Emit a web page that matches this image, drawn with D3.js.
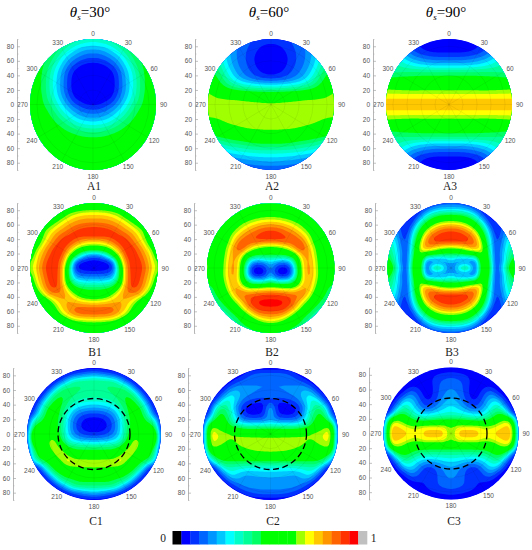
<!DOCTYPE html>
<html><head><meta charset="utf-8">
<script src="https://cdn.jsdelivr.net/npm/d3@7"></script>
<style>html,body{margin:0;padding:0;background:#fff}svg{display:block}</style>
</head><body><svg id="c" width="532" height="550"></svg>
<script>
// Colour levels of the 0..1 scale (one entry per legend box)
const levelColors=["#000000","#0000ff","#0032ff","#0064ff","#0096ff","#00c8ff","#00ffff","#00ffc8","#00ff96","#00ff64","#00ff00","#00ff00","#00ff00","#00ff00","#a0ff00","#ffff00","#ffc800","#ff9600","#ff6400","#ff3200","#ff0000","#c0c0c0"];
const titles=["30","60","90"];
const radialTicks=[-80,-60,-40,-20,0,20,40,60,80];
const angleTicks=[0,30,60,90,120,150,180,210,240,270,300,330];
// Half-panel readings: rows top to bottom, columns centre to rim (panels are mirror-symmetric). Unit: legend level.
const A1=[[7.8,8,8.4,9,9.8,10.2,10.5,10.9,11,11,11],[6,6.2,6.5,7.2,8.2,9.5,10.2,10.5,11,11,11],[4.2,4.3,4.8,5.8,6.7,8,9.5,10.2,10.7,11,11],[2.8,2.9,3.4,4.2,5.3,6.8,8.4,10,10.4,10.9,11],[1.4,1.5,1.9,2.8,4.1,5.8,7.4,9.2,10.2,10.7,11],[1,1,1.2,1.7,3,5,6.6,8.6,10.1,10.6,11],[1,1,1,1.4,2.7,4.8,6.3,8.2,10,10.5,11],[1,1,1,1.3,2.7,4.6,6.3,8.1,10,10.5,11],[1,1,1,1.4,2.8,4.7,6.4,8.2,10,10.5,11],[1,1,1.3,1.9,3.6,5.2,7,8.5,10.2,10.6,11],[1.7,1.8,2.5,3.2,4.7,6.2,7.8,9.4,10.2,10.7,11],[3.3,3.4,4,4.8,6,7.2,8.8,10,10.5,11,11],[4.8,5,5.3,6.2,7.4,8.5,9.8,10.3,10.7,11,11],[6.7,6.9,7.2,8,8.8,9.8,10.2,10.6,11,11,11],[8.6,8.7,9,9.6,10,10.4,10.7,11,11,11,11],[10.2,10.2,10.3,10.5,10.6,10.8,11,11,11,11,11],[10.7,10.7,10.8,10.8,11,11,11,11,11,11,11],[11,11,11,11,11,11,11,11,11,11,11],[11,11,11,11,11,11,11,11,11,11,11],[11,11,11,11,11,11,11,11,11,11,11],[11,11,11,11,11,11,11,11,11,11,11]];
const A2=[[2.5,2.5,2.8,3,3.5,4,5,6,7,8,9],[1.8,1.9,2.2,2.8,3.2,3.8,4.5,5.5,7,8,9],[1.2,1.3,1.7,2.5,3,3.6,4.4,5.5,7,8.5,9.5],[1,1.1,1.4,2.2,3,3.6,4.5,5.8,7.4,9,10],[1,1.1,1.6,2.4,3.1,3.8,4.8,6.2,8,9.6,10.2],[1.5,1.6,2.1,2.8,3.5,4.3,5.5,7,8.8,10,10.5],[2.4,2.6,3,3.5,4.2,5.1,6.4,8,9.7,10.5,11],[6,6.1,6.3,6.6,7,7.6,8.4,9.3,10.2,11,12],[9.6,9.7,9.8,10,10.1,10.3,10.6,11,11.7,13,14.2],[13.2,13.3,13.4,13.5,13.7,13.9,14,14.1,14.2,14.4,14.6],[14.3,14.3,14.4,14.4,14.5,14.5,14.6,14.6,14.6,14.6,14.6],[14.5,14.5,14.5,14.5,14.5,14.5,14.5,14.5,14.5,14.5,14.5],[14.6,14.6,14.6,14.6,14.6,14.5,14.5,14.4,14.3,14.2,14.1],[14.5,14.5,14.5,14.5,14.4,14.3,14.2,14,13.6,13,12.5],[14.2,14.2,14.1,14.05,13.9,13.6,13.2,12.8,12.2,11.5,11],[12,11.9,11.8,11.5,11.2,10.9,10.6,10.3,10,9.5,9],[10,10,10,9.8,9.5,9.2,9,8.6,8,7.5,7],[8,8,7.9,7.8,7.6,7.3,7,6.6,6,5.5,5],[6,6,5.9,5.8,5.6,5.3,5,4.6,4,4,4],[4.6,4.5,4.4,4.2,4,3.8,3.5,3,3,3,3],[3,3,3,3,2.8,2.6,2.4,2,2,2,2]];
const A3=[[1.2,1.2,1.3,1.4,1.6,2,3,4,5,6,7],[1.2,1.2,1.3,1.4,1.6,2,2.8,4,5,6,7],[1.7,1.7,1.7,1.8,2.1,2.6,3.4,4.4,5.5,6.5,7.5],[3.4,3.4,3.4,3.6,3.9,4.4,5,6,7,8,9],[5.6,5.6,5.6,5.7,6,6.3,6.8,7.4,8,8.6,9],[9.2,9.2,9.2,9.2,9.2,9.2,9.2,9,8.8,8.6,8.4],[10.5,10.5,10.5,10.5,10.5,10.4,10.3,10.3,10.2,10,9.8],[12.5,12.5,12.5,12.5,12.5,12.4,12.4,12.5,12.6,12.8,13],[14.3,14.3,14.3,14.3,14.3,14.3,14.3,14.3,14.4,14.4,14.5],[16.1,16.1,16.1,16.1,16.1,16.1,16.1,16.1,16.1,16.1,16.1],[16.6,16.6,16.6,16.6,16.6,16.6,16.6,16.6,16.6,16.6,16.6],[16.1,16.1,16.1,16.1,16.1,16.1,16.1,16.1,16.1,16.1,16.1],[14.3,14.3,14.3,14.3,14.3,14.3,14.3,14.3,14.4,14.4,14.5],[12.5,12.5,12.5,12.5,12.5,12.4,12.4,12.5,12.6,12.8,13],[10.5,10.5,10.5,10.5,10.5,10.4,10.3,10.3,10.2,10,9.8],[9.2,9.2,9.2,9.2,9.2,9.2,9.2,9,8.8,8.6,8.4],[5.6,5.6,5.6,5.7,6,6.3,6.8,7.4,8,8.6,9],[3.4,3.4,3.4,3.6,3.9,4.4,5,6,7,8,9],[1.7,1.7,1.7,1.8,2.1,2.6,3.4,4.4,5.5,6.5,7.5],[1.2,1.2,1.3,1.4,1.6,2,2.8,4,5,6,7],[1.2,1.2,1.3,1.4,1.6,2,3,4,5,6,7]];
const B1=[[10,10,10,10,10,10,10,10,10,10,10],[14,14,13.5,13,12.5,12,11,10.5,10,10,10],[16.5,16.5,16.3,15.8,14.5,13,11.5,11,11,11,11],[18,18,17.8,17.4,16.7,15.5,14,12.5,11,11,11],[19.5,19.5,19.2,18.8,18,17,16,14.5,13.5,11,11],[20.2,20.2,20,19.7,19.3,18.7,17.5,16,13.5,12,11],[15.8,16,16.8,18.8,19.8,19.8,18.5,16.8,15,11.5,11],[12.5,12.8,13.5,14.8,18,20,19.8,18.3,16.5,14,11],[3.5,4.5,7,12,15,19.5,20,19,17.3,15.5,12],[1.2,1.3,1.7,3,13,18,20,19.8,18,16,13.5],[1,1,1.2,1.7,10,17.5,20,20,18.5,16.5,14.3],[3,3,3.2,4,10,17.5,19.8,19.8,18,16,13],[6,6,6.2,7,10.5,17.5,19.8,19.5,17.5,15.3,12],[9.5,9.5,9.6,10.5,13.8,18,19.5,19,17,14,11.5],[11,11.2,12,14.3,16.5,18,18,17.8,15,12,11],[14.5,15,15.5,16.5,17,16.8,15.8,13.5,11,11,11],[18.5,18.5,18.5,18.2,17.5,16.5,14,11.5,11,11,11],[19,19,19,18.5,17,15,12.5,11,11,11,11],[15.5,15.3,15,14.5,13,11.5,11,11,11,11,11],[11.5,11.5,11,11,11,11,11,11,11,11,11],[10.5,10.5,10.5,10.5,10.5,10.5,10.5,10.5,10.5,10.5,10.5]];
const B2=[[9.5,9.5,9.5,9.5,9,8.5,8,8,8,8,8],[11.5,11.5,11.3,11,10.5,10,10,10,9.5,9,9],[13.5,13.3,13,12.5,12,11.5,11,10.5,10.5,10,10],[16.5,16.3,15.8,15,14,13,12,11,10.5,10.5,10],[18.8,18.6,18,17.2,16,14.5,13,11.5,11,11,10.5],[20.2,20,19.4,18.8,18,16.5,14.6,12.5,11.2,11,10.5],[18.5,18.7,19,19.2,19.2,18.5,15.5,13,11.5,11,10.5],[12,12.3,13.5,15,18.5,19.5,17,14,11.8,11.2,11],[10.5,10.5,10.6,11,13,17.5,17.5,14.5,12,11.3,12],[6,5,4,5,10,16,17.8,15,12.3,11.5,14.5],[5,1.6,1,1.8,8,16,18,15.2,12.3,11.3,15],[5,1.4,1,1.6,8,15.5,18,15.5,12.3,11,14],[8,6,6,7,10.5,15.5,17.5,15,12,11,11],[15,14.8,14.2,13.5,14.5,17,17.5,14,11.5,10,9],[19.3,19.3,19,18.7,18.5,18.6,16,12.5,11,9.5,8.5],[20.3,20.3,20.2,19.6,18,16,13.5,11,10,8.5,7.5],[20.3,20.3,20,19,17,13.5,11.5,10,9,7.5,7],[18.5,18.3,18,16,13,11,10,8.5,7.5,7,6.5],[16,15.5,14.2,12,11,10,8.5,7.5,6.5,6,6],[12,11.8,11,10.4,10,9,7.5,6.5,6,6,6],[10.5,10.3,10,9.5,8.5,7.5,6.5,6,6,6,6]];
const B3=[[3,3,2.8,2.5,2,1.5,1.5,1.5,1.5,1.5,1.5],[6,6,5.5,4.5,3,2,1.3,1.5,2,2,2],[11,10.9,10.3,9,6.5,3,1.5,2,3,4,4],[15,14.8,14,12.5,10,7,2.3,1.5,3,4,4],[18.8,18.6,17.8,16,13.5,9.5,5,1.5,3,5,6],[19.8,19.8,19.5,18.8,16.5,12,6.5,2,3.2,6,7],[20,20,19.8,19.3,18,13.5,8,2,4,7,8],[13.5,14,15,17,18,15,8.5,2,4.5,7.5,9],[8.5,9,9.5,9.8,10.5,15,9.3,2,5,8,10],[6,3,2,2.5,3,15.5,11,1.5,4.5,8.5,11.5],[2.5,7,12,9.5,1.5,14.5,12,1.5,6,10,15],[6,3,2,2.5,3,15.5,11,1.5,4.5,8.5,11.5],[8.5,9,9.5,9.8,10.5,15,9.3,2,5,8,10],[13.5,14,15,17,18,15,8.5,2,4.5,7.5,9],[20,20,19.8,19.3,18,13.5,8,2,4,7,8],[19.8,19.8,19.5,18.8,16.5,12,6.5,2,3.2,6,7],[18.8,18.6,17.8,16,13.5,9.5,5,1.5,3,5,6],[15,14.8,14,12.5,10,7,2.3,1.5,3,4,4],[11,10.9,10.3,9,6.5,3,1.5,2,3,4,4],[6,6,5.5,4.5,3,2,1.3,1.5,2,2,2],[3,3,2.8,2.5,2,1.5,1.5,1.5,1.5,1.5,1.5]];
const C1=[[1,1,1,1,1,1,1,1,1,1,1],[5,4.5,3.5,2.5,1.5,1,1,1,1,1,1],[9,9,9,8.8,6,2.8,1.2,1,1,1,1],[9,9,9,9.2,9.6,8.5,4,1.3,1,1,1],[8.8,8.8,8.9,9.2,9.8,10.2,9,4,1.2,1,1],[7.2,7.3,7.6,8.2,9.5,10.5,10.5,8,3,1,1],[5,5.2,5.6,6.5,8.5,10.3,11,10.5,6,1.5,1],[2.5,2.6,3.3,4.5,7,10,11,11,8,2.8,1],[1.2,1.3,2,3.5,6.2,9.5,11,11,10,8,1.5],[1,1,1.9,3.3,6,9.5,11,11.5,11.5,11,1.4],[2.2,2.3,2.8,4,6.3,9.6,12,12,13,16,1.5],[4.8,5,5.3,6,7.5,10,16,13.5,12,15.5,1.5],[9.5,9.5,9.6,9.8,10,13.8,16,12.5,12,11,1.2],[11,11,11,11,13.8,16.5,13.8,11.5,11.5,9,1],[15,15,15.2,15.5,16.5,13.8,11.5,11,10.5,7,1],[14.6,14.6,14.5,14.3,13.5,12,11,9,3,1,1],[11.5,11.5,11.5,11,11,10.5,9,4,1.2,1,1],[10.5,10.5,10.5,10,9.8,8.5,4,1.3,1,1,1],[9,9,9,8.8,6,2.8,1.2,1,1,1,1],[5,4.5,3.5,2.5,1.5,1,1,1,1,1,1],[1,1,1,1,1,1,1,1,1,1,1]];
const C2=[[1,1,1,1,1,1,1,1,1,1,1],[4,4,3.8,3,1.8,1,1,1,1,1,1],[4,4,4,4,3.5,2.5,1.2,1,1,1,1],[4,4,4,4,4.3,5,3.5,1.3,1,1,1],[4,4,4,4.3,4.7,5.8,6.5,3.5,1.2,1,1],[2.2,2,2.2,2.6,3.5,5.5,7.5,7.5,3,1,1],[6,1.3,1.2,1.2,1.8,4,7.5,9.5,8,1.5,1],[6,2,1.5,1.5,2.2,5,8.5,10.5,10,3,1],[4.5,4,3.8,3.8,4.2,6,9,11,11.5,8,1.2],[9.5,9.4,9.3,9.2,9.2,9.7,10.5,12.5,14,15.5,1.5],[13,13,13.1,13.2,13.4,14,14.8,15,15.2,16.5,1.5],[15,15,15,15,15,14.5,13.5,14.5,15,15.8,1.5],[15,15,14.9,14.7,14.2,13.5,12.8,13.5,14.2,15,1.3],[13.8,13.6,13.5,13,12.5,12,11.5,11.5,11,10.5,1.1],[10.5,10.5,10.5,10.5,10.5,10.5,10.5,10.5,10.3,5,1],[7,7,7,7.2,7.5,7.7,8,8,3,1,1],[5.6,5.5,5.4,5,5,6,7,4,1.2,1,1],[4.5,4.5,4.5,4.5,4.5,5,4,1.3,1,1,1],[4.5,4.5,4.5,4.5,4.3,3,1.2,1,1,1,1],[3.5,3.5,3.3,2.8,1.8,1,1,1,1,1,1],[1,1,1,1,1,1,1,1,1,1,1]];
const C3=[[1,1,1,1,1,1,1,1,1,1,1],[2.5,2.3,2,1.7,1.3,1,1,1,1,1,1],[3.5,3.3,2.8,1.8,1.4,1.2,1,1,1,1,1],[4,3.7,2.8,1.5,1.3,2,2,1,1,1,1],[4.5,4,2.8,1.5,1.5,3,4.5,2,1,1,1],[5.5,4.8,3.2,1.8,2,4,6,6,2,1,1],[6.3,5.8,4.5,3,3,5,7,8.5,5,1.2,1],[7.2,7,6.5,6,5.5,6.5,8.5,10,9.5,2.5,1],[10.2,10.2,10,9.5,9,9.5,10.5,13,15,14,1.2],[14,15.8,15.8,15.8,15.8,15,15,15.8,16.3,17,3],[13,16.5,16.7,16.8,16.5,15,16,16.5,16.8,18,3],[14,15.8,15.8,15.8,15.8,15,15,15.8,16.3,17,3],[11,11,11,11,11,11,11.5,13.5,14.8,14,1.3],[8.5,8.5,8.5,8.5,8.7,9,10,10.8,10.5,3.5,1],[6.5,6.3,6,5.5,5.7,6.5,8,9,5,1.2,1],[5,4.5,3.5,2.5,3,5,6.5,6,2,1,1],[4.5,4,3,2,2,3.5,4.5,2,1,1,1],[4,3.8,3,2.2,2,2.5,2,1,1,1,1],[3.5,3.3,3,2.5,2,1.3,1,1,1,1,1],[2.5,2.3,2,1.7,1.3,1,1,1,1,1,1],[1,1,1,1,1,1,1,1,1,1,1]];
// Layout of the small multiples
const panels=[
 {name:"A1",grid:A1,cx:93,cy:104.5,rx:63,ry:65.5,ax:17,lx:94,ly:186},
 {name:"A2",grid:A2,cx:271,cy:104.5,rx:63,ry:65.5,ax:195,lx:272,ly:186},
 {name:"A3",grid:A3,cx:449,cy:104.5,rx:63,ry:65.5,ax:373,lx:450,ly:186},
 {name:"B1",grid:B1,cx:94,cy:268,rx:63.7,ry:65,ax:17,lx:95,ly:352},
 {name:"B2",grid:B2,cx:270.7,cy:268,rx:63.7,ry:65,ax:194,lx:272,ly:352},
 {name:"B3",grid:B3,cx:451,cy:268,rx:63.5,ry:65,ax:375,lx:452,ly:352},
 {name:"C1",grid:C1,cx:94,cy:434,rx:67,ry:66,ax:13,lx:96,ly:521,sun:true},
 {name:"C2",grid:C2,cx:270.5,cy:434,rx:67.5,ry:66,ax:188,lx:273,ly:521,sun:true},
 {name:"C3",grid:C3,cx:451,cy:433.5,rx:67.5,ry:66,ax:369,lx:454,ly:521,sun:true}
];
const titleX=[90,269,446];
const svg=d3.select("#c");
const serif="'Liberation Serif','Times New Roman',serif", sans="'Liberation Sans',Arial,sans-serif";
titles.forEach((t,i)=>{
 const tx=svg.append("text").attr("x",titleX[i]).attr("y",17).attr("text-anchor","middle").attr("font-family",serif).attr("font-size",15);
 tx.append("tspan").attr("font-style","italic").text("θ");
 tx.append("tspan").attr("font-size",9).attr("dy",3).attr("font-style","italic").text("s");
 tx.append("tspan").attr("dy",-3).text("="+t+"°");
});
const thresholds=d3.range(1,levelColors.length);
const SS=4; // contour raster per reading cell
panels.forEach((p,i)=>{
 const n=p.grid.length, m=p.grid[0].length*2-1;
 const full=p.grid.map(r=>[...r.slice(1).reverse(),...r]);
 const W=m*SS,H=n*SS,values=new Float64Array(W*H);
 for(let y=0;y<H;y++)for(let x=0;x<W;x++)values[y*W+x]=full[Math.floor(y/SS)][Math.floor(x/SS)];
 d3.blur2({data:values,width:W,height:H},1.5);
 const X=d3.scaleLinear().domain([0.5,m-0.5]).range([p.cx-p.rx,p.cx+p.rx]);
 const Y=d3.scaleLinear().domain([0.5,n-0.5]).range([p.cy-p.ry,p.cy+p.ry]);
 const proj=d3.geoTransform({point(x,y){this.stream.point(X(x/SS),Y(y/SS));}});
 const path=d3.geoPath(proj);
 svg.append("clipPath").attr("id","disc"+i).append("ellipse").attr("cx",p.cx).attr("cy",p.cy).attr("rx",p.rx).attr("ry",p.ry);
 const g=svg.append("g").attr("clip-path",`url(#disc${i})`);
 g.append("ellipse").attr("cx",p.cx).attr("cy",p.cy).attr("rx",p.rx).attr("ry",p.ry).attr("fill",levelColors[1]);
 const cs=d3.contours().size([W,H]).thresholds(thresholds)(values);
 g.selectAll("path.band").data(cs).join("path").attr("class","band").attr("d",path).attr("fill",d=>levelColors[d.value]);
 // polar grid
 const rScale=d3.scaleLinear().domain([0,90]).range([0,1]);
 const gr=g.append("g").attr("fill","none").attr("stroke","#000").attr("stroke-opacity",0.1).attr("stroke-width",0.6);
 [20,40,60,80].forEach(r=>gr.append("ellipse").attr("cx",p.cx).attr("cy",p.cy).attr("rx",rScale(r)*p.rx).attr("ry",rScale(r)*p.ry));
 angleTicks.forEach(a=>{const t=a*Math.PI/180;gr.append("line").attr("x1",p.cx).attr("y1",p.cy).attr("x2",p.cx+p.rx*Math.sin(t)).attr("y2",p.cy-p.ry*Math.cos(t));});
 // angle labels
 svg.append("g").selectAll("text").data(angleTicks).join("text")
  .attr("x",a=>p.cx+(p.rx+7.5)*Math.sin(a*Math.PI/180))
  .attr("y",a=>p.cy-(p.ry+6)*Math.cos(a*Math.PI/180)+2.5)
  .attr("text-anchor","middle").attr("font-family",sans).attr("font-size",6.5).attr("fill","#555").text(d=>d);
 // radial axis
 const yAxis=d3.scaleLinear().domain([-90,90]).range([p.cy-p.ry,p.cy+p.ry]);
 const ag=svg.append("g").attr("transform",`translate(${p.ax},0)`);
 ag.call(d3.axisLeft(yAxis).tickValues(radialTicks).tickFormat(d=>Math.abs(d)).tickSizeInner(-3).tickSizeOuter(0).tickPadding(3));
 ag.selectAll("text").attr("font-family",sans).attr("font-size",6.5).attr("fill","#555");
 ag.selectAll("line,path").attr("stroke","#999").attr("stroke-width",0.6);
 const minor=svg.append("g").attr("transform",`translate(${p.ax},0)`);
 minor.call(d3.axisLeft(yAxis).tickValues(d3.range(-90,91,10).filter(v=>!radialTicks.includes(v))).tickFormat("").tickSizeInner(-1.5).tickSizeOuter(0));
 minor.selectAll("line,path").attr("stroke","#aaa").attr("stroke-width",0.5);
 // sun circle
 if(p.sun) svg.append("ellipse").attr("cx",p.cx).attr("cy",p.cy).attr("rx",36).attr("ry",35.5).attr("fill","none").attr("stroke","#000").attr("stroke-width",1.3).attr("stroke-dasharray","6,3.5");
 svg.append("text").attr("x",p.lx).attr("y",p.ly+4).attr("text-anchor","middle").attr("font-family",serif).attr("font-size",11.5).attr("fill","#222").text(p.name);
});
// legend
const bar=d3.scaleBand().domain(d3.range(levelColors.length)).range([172.5,367]);
svg.append("g").selectAll("rect").data(levelColors).join("rect").attr("x",(d,i)=>bar(i)).attr("y",531).attr("width",bar.bandwidth()+0.3).attr("height",13.5).attr("fill",d=>d);
[["0",163],["1",373.5]].forEach(([t,x])=>svg.append("text").attr("x",x).attr("y",542).attr("text-anchor","middle").attr("font-family",serif).attr("font-size",11.5).attr("fill","#222").text(t));
</script></body></html>
